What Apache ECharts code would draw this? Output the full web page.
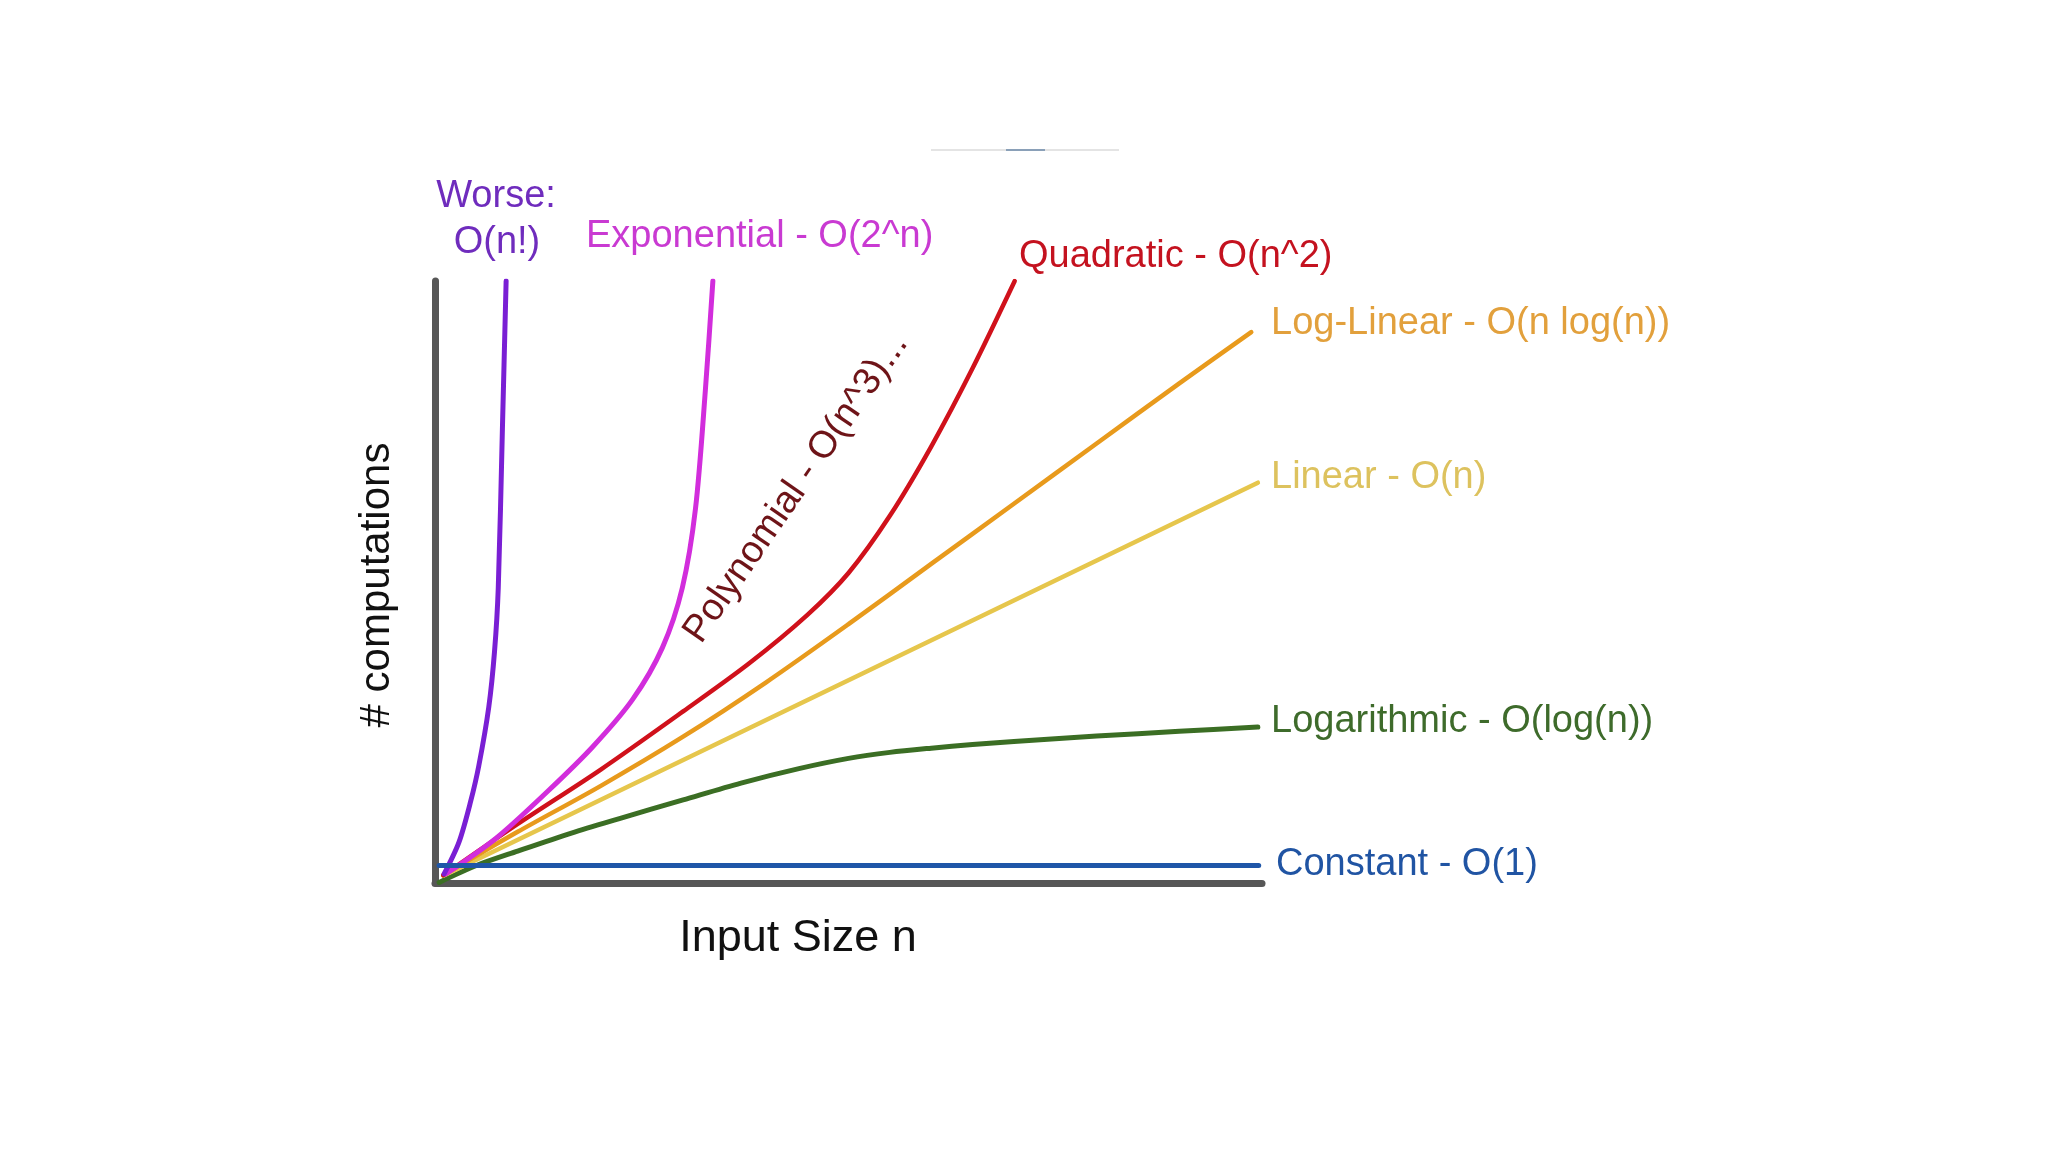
<!DOCTYPE html>
<html>
<head>
<meta charset="utf-8">
<script src="https://cdn.jsdelivr.net/npm/echarts@6/dist/echarts.min.js"></script>
<style>
html,body{margin:0;padding:0;background:#fff;}
#c{width:2048px;height:1152px;}
</style>
</head>
<body>
<div id="c"></div>
<script>
// ---- data (x = input size n, y = # computations, both on a 0..100 scale) ----
const factorial   = [[1.1,1.5],[2.9,6.8],[4.3,13.5],[5.3,19.5],[6.5,29.2],[7.2,38.5],[7.65,49],[8.15,75.4],[8.6,100]];
const exponential = [[1.3,1.5],[7.35,7.4],[13.6,15.2],[19.05,22.6],[23.9,30.5],[27.5,39.1],[29.9,49],[31.5,62.2],[32.7,82],[33.6,100]];
const quadratic   = [[1,1.3],[10,9.8],[20,18.8],[30,28.5],[38,36.5],[45,44.5],[50,51.5],[55,61],[60,72.5],[65,85.5],[70.1,100]];
const logLinear   = [[1,1.3],[10,8.5],[20,16.1],[30,24.3],[40,33.3],[50,43],[60,53],[70,63],[80,73],[90,83],[98.7,91.5]];
const linear      = [[1,1.2],[99.5,66.5]];
const logarithmic = [[0.5,0.1],[5,2.9],[10,5.3],[16.5,8.3],[22.3,10.7],[30,13.8],[37,16.6],[44,19],[50,20.7],[55,21.7],[60,22.4],[65,23],[70,23.5],[80,24.4],[90,25.2],[99.5,25.9]];
const constant    = [[0.5,2.9],[99.6,2.9]];

const labels = {
  worse1: 'Worse:', worse2: 'O(n!)',
  exponential: 'Exponential - O(2^n)',
  quadratic: 'Quadratic - O(n^2)',
  logLinear: 'Log-Linear - O(n log(n))',
  linear: 'Linear - O(n)',
  logarithmic: 'Logarithmic - O(log(n))',
  constant: 'Constant - O(1)',
  polynomial: 'Polynomial - O(n^3)...',
  yName: '# computations',
  xName: 'Input Size n'
};

const chart = echarts.init(document.getElementById('c'));
const FONT = '"Liberation Sans", Arial, sans-serif';

function line(name, data, color, width, z) {
  return {
    name: name, type: 'line', data: data, showSymbol: false, symbol: 'none',
    smooth: 0.3, z: z || 2,
    lineStyle: { color: color, width: width, cap: 'round' },
    animation: false
  };
}

function txt(x, y, text, color, size, opts) {
  return Object.assign({
    type: 'text', x: x, y: y,
    style: Object.assign({
      text: text, fill: color, font: size + 'px ' + FONT,
      textAlign: 'left', textVerticalAlign: 'middle'
    }, (opts && opts.style) || {})
  }, (opts && opts.el) || {});
}

chart.setOption({
  backgroundColor: '#ffffff',
  animation: false,
  grid: { left: 435, top: 281, width: 827, height: 602, containLabel: false },
  xAxis: {
    type: 'value', min: 0, max: 100,
    axisLine: { show: true, onZero: false, lineStyle: { color: '#575757', width: 7 } },
    axisTick: { show: false }, axisLabel: { show: false }, splitLine: { show: false }
  },
  yAxis: {
    type: 'value', min: 0, max: 100,
    axisLine: { show: true, onZero: false, lineStyle: { color: '#575757', width: 7 } },
    axisTick: { show: false }, axisLabel: { show: false }, splitLine: { show: false }
  },
  series: [
    line('Logarithmic', logarithmic, '#3b6e24', 5, 2),
    line('Linear', linear, '#e6c64c', 4.5, 3),
    line('Log-Linear', logLinear, '#e89a1c', 4.5, 4),
    line('Quadratic', quadratic, '#d0111b', 4.5, 5),
    line('Exponential', exponential, '#d22ddc', 5, 6),
    line('Factorial', factorial, '#7a1fd4', 5, 7),
    line('Constant', constant, '#1f56a8', 5, 8)
  ],
  graphic: [
    // faint artifact line at the top
    { type: 'line', shape: { x1: 931, y1: 150, x2: 1119, y2: 150 }, style: { stroke: '#e4e4e4', lineWidth: 2 } },
    { type: 'line', shape: { x1: 1006, y1: 150, x2: 1045, y2: 150 }, style: { stroke: '#8aa0b8', lineWidth: 2 } },
    txt(496, 197, labels.worse1, '#6f2cbd', 38, { style: { textAlign: 'center' } }),
    txt(497, 243, labels.worse2, '#6f2cbd', 38, { style: { textAlign: 'center' } }),
    txt(586, 237, labels.exponential, '#c93ad2', 38),
    txt(1019, 257, labels.quadratic, '#c4121f', 38),
    txt(1271, 324, labels.logLinear, '#e2a03c', 38),
    txt(1271, 478, labels.linear, '#ddc25e', 38),
    txt(1271, 722, labels.logarithmic, '#3e6b2b', 38),
    txt(1276, 865, labels.constant, '#2054a3', 38),
    txt(0, 0, labels.polynomial, '#6e1418', 38, {
      style: { textAlign: 'center' },
      el: { x: 796, y: 488, rotation: 55.5 * Math.PI / 180 }
    }),
    txt(0, 0, labels.yName, '#111111', 42, {
      style: { textAlign: 'center' },
      el: { x: 377, y: 585, rotation: Math.PI / 2 }
    }),
    txt(798, 939, labels.xName, '#111111', 45, { style: { textAlign: 'center' } })
  ]
});
</script>
</body>
</html>
